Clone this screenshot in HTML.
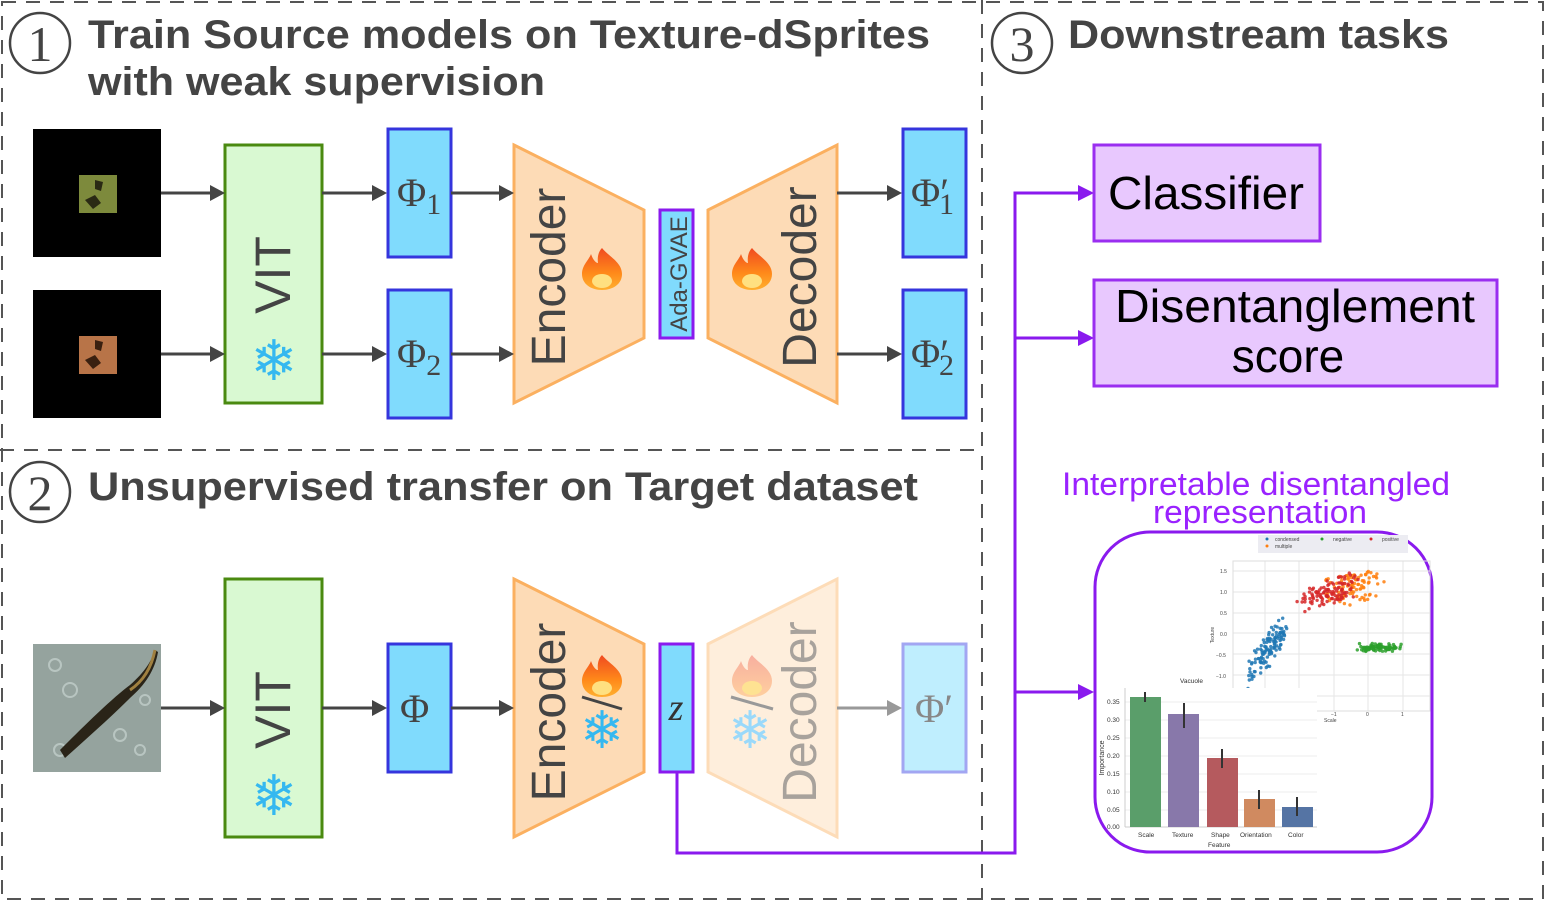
<!DOCTYPE html>
<html><head><meta charset="utf-8"><style>
html,body{margin:0;padding:0;background:#fff;width:1546px;height:902px;overflow:hidden}
svg text{font-family:"Liberation Sans",sans-serif}
</style></head><body>
<svg id="s" width="1546" height="902" viewBox="0 0 1546 902" xmlns="http://www.w3.org/2000/svg">
<defs>
<linearGradient id="fire" x1="0" y1="0" x2="0" y2="1"><stop offset="0" stop-color="#f04a20"/><stop offset="0.6" stop-color="#ff8a1a"/><stop offset="1" stop-color="#ffb030"/></linearGradient>
<linearGradient id="firef" x1="0" y1="0" x2="0" y2="1"><stop offset="0" stop-color="#f7a090"/><stop offset="1" stop-color="#ffc890"/></linearGradient>
<g id="flame"><path d="M0,-20 C6,-12 20,-6 20,6 C20,16 11,22 0,22 C-11,22 -20,16 -20,6 C-20,-3 -13,-8 -11,-14 C-9,-8 -6,-5 -4,-5 C-5,-12 -3,-17 0,-20 Z"/><ellipse cx="0" cy="13" rx="10" ry="7" fill="#ffe080"/></g>
</defs>
<g stroke="#555" stroke-width="2" stroke-dasharray="14,10" fill="none">
<rect x="2" y="2" width="1541" height="897"/>
<line x1="982" y1="0" x2="982" y2="900"/>
<line x1="0" y1="450" x2="982" y2="450"/>
</g>
<g fill="none" stroke="#444" stroke-width="2.5"><circle cx="40" cy="43" r="30"/><circle cx="40" cy="492" r="30"/><circle cx="1022" cy="43" r="30"/></g>
<g font-size="50" fill="#444" text-anchor="middle">
<text x="40" y="61" style="font-family:'Liberation Serif',serif">1</text><text x="40" y="510" style="font-family:'Liberation Serif',serif">2</text><text x="1022" y="61" style="font-family:'Liberation Serif',serif">3</text></g>
<g font-weight="bold" font-size="40" fill="#444">
<text x="88" y="48" textLength="842" lengthAdjust="spacingAndGlyphs">Train Source models on Texture-dSprites</text>
<text x="88" y="95" textLength="457" lengthAdjust="spacingAndGlyphs">with weak supervision</text>
<text x="88" y="500" textLength="830" lengthAdjust="spacingAndGlyphs">Unsupervised transfer on Target dataset</text>
<text x="1068" y="48" textLength="381" lengthAdjust="spacingAndGlyphs">Downstream tasks</text>
</g>
<rect x="33" y="129" width="128" height="128" fill="#000"/>
<rect x="79" y="175" width="38" height="38" fill="#7d8a3c"/><path d="M85,200 l10,-5 l6,8 l-8,6z M95,180 l8,2 l-2,9 l-6,-2z" fill="#2a2a14"/>
<rect x="33" y="290" width="128" height="128" fill="#000"/>
<rect x="79" y="336" width="38" height="38" fill="#b87448"/><path d="M85,360 l10,-5 l6,8 l-8,6z M95,340 l8,2 l-2,9 l-6,-2z" fill="#3a2010"/>
<rect x="33" y="644" width="128" height="128" fill="#95a39e"/>
<g fill="none" stroke="#c8d4d0" stroke-width="2" opacity="0.7"><circle cx="55" cy="665" r="6"/><circle cx="70" cy="690" r="7"/><circle cx="120" cy="735" r="6"/><circle cx="140" cy="750" r="5"/><circle cx="60" cy="750" r="6"/><circle cx="145" cy="700" r="5"/></g>
<path d="M60,750 C80,730 110,700 130,685 C145,672 152,660 155,650 L158,652 C155,670 145,685 130,698 C110,718 85,740 65,758 Z" fill="#2a2418"/>
<path d="M130,690 C145,680 152,665 155,650" stroke="#a08040" stroke-width="3" fill="none"/>
<g fill="#d9f9d2" stroke="#4a8a10" stroke-width="3"><rect x="225" y="145" width="97" height="258"/><rect x="225" y="579" width="97" height="258"/></g>
<g font-size="50" fill="#444" text-anchor="middle"><text transform="translate(290,275) rotate(-90)">VIT</text><text transform="translate(290,710) rotate(-90)">VIT</text></g>
<g font-size="56" fill="#35b8f0" text-anchor="middle"><text x="274" y="380" style="font-family:'DejaVu Sans',sans-serif">❄</text><text x="274" y="815" style="font-family:'DejaVu Sans',sans-serif">❄</text></g>
<g fill="#80dbfd" stroke="#3535dd" stroke-width="3">
<rect x="388" y="129" width="63" height="128"/><rect x="388" y="290" width="63" height="128"/>
<rect x="903" y="129" width="63" height="128"/><rect x="903" y="290" width="63" height="128"/>
<rect x="388" y="644" width="63" height="128"/></g>
<rect x="903" y="644" width="63" height="128" fill="#bfeefe" stroke="#a2a6f2" stroke-width="3"/>
<g fill="#444">
<text x="397" y="206" font-size="40" style="font-family:'Liberation Serif',serif">Φ<tspan font-size="30" dy="8">1</tspan></text>
<text x="397" y="367" font-size="40" style="font-family:'Liberation Serif',serif">Φ<tspan font-size="30" dy="8">2</tspan></text>
<text x="911" y="206" font-size="40" style="font-family:'Liberation Serif',serif">Φ′<tspan font-size="30" dy="8" dx="-10">1</tspan></text>
<text x="911" y="367" font-size="40" style="font-family:'Liberation Serif',serif">Φ′<tspan font-size="30" dy="8" dx="-10">2</tspan></text>
<text x="400" y="722" font-size="40" style="font-family:'Liberation Serif',serif">Φ</text>
<text x="915" y="722" font-size="40" fill="#888" style="font-family:'Liberation Serif',serif">Φ′</text>
</g>
<g fill="#fddbb6" stroke="#fbb060" stroke-width="3">
<path d="M514,145 L644,210 L644,338 L514,403 Z"/><path d="M708,210 L837,145 L837,403 L708,338 Z"/>
<path d="M514,579 L644,644 L644,772 L514,837 Z"/></g>
<path d="M708,644 L837,579 L837,837 L708,772 Z" fill="#feeedc" stroke="#fddcb8" stroke-width="3"/>
<g font-size="48" fill="#444" text-anchor="middle">
<text transform="translate(565,277) rotate(-90)">Encoder</text>
<text transform="translate(816,277) rotate(-90)">Decoder</text>
<text transform="translate(565,712) rotate(-90)">Encoder</text>
<text transform="translate(816,712) rotate(-90)" fill="#a8a29c">Decoder</text></g>
<use href="#flame" x="602" y="268" fill="url(#fire)"/>
<use href="#flame" x="752" y="268" fill="url(#fire)"/>
<use href="#flame" x="602" y="675" fill="url(#fire)"/>
<use href="#flame" x="752" y="675" fill="url(#firef)" opacity="0.8"/>
<line x1="582" y1="697" x2="622" y2="709" stroke="#444" stroke-width="3"/>
<line x1="731" y1="697" x2="773" y2="709" stroke="#999" stroke-width="3"/>
<g font-size="52" text-anchor="middle" style="font-family:'DejaVu Sans',sans-serif"><text x="602" y="748" fill="#35b8f0">❄</text><text x="750" y="748" fill="#9ad9fa">❄</text></g>
<g fill="#80dbfd" stroke="#8a1aee" stroke-width="3"><rect x="660" y="210" width="33" height="128"/><rect x="660" y="644" width="33" height="128"/></g>
<text transform="translate(687,274) rotate(-90)" font-size="24" fill="#444" text-anchor="middle">Ada-GVAE</text>
<text x="676" y="720" font-size="38" fill="#333" text-anchor="middle" font-style="italic" style="font-family:'Liberation Serif',serif">z</text>
<g stroke="#444" stroke-width="3">
<line x1="161" y1="193" x2="212" y2="193"/><line x1="161" y1="354" x2="212" y2="354"/>
<line x1="322" y1="193" x2="374" y2="193"/><line x1="322" y1="354" x2="374" y2="354"/>
<line x1="451" y1="193" x2="501" y2="193"/><line x1="451" y1="354" x2="501" y2="354"/>
<line x1="837" y1="193" x2="889" y2="193"/><line x1="837" y1="354" x2="889" y2="354"/>
<line x1="161" y1="708" x2="212" y2="708"/><line x1="322" y1="708" x2="374" y2="708"/><line x1="451" y1="708" x2="501" y2="708"/>
</g>
<line x1="837" y1="708" x2="889" y2="708" stroke="#999" stroke-width="3"/>
<g fill="#444">
<path d="M225,193 l-15,-8 v16z"/><path d="M225,354 l-15,-8 v16z"/>
<path d="M387,193 l-15,-8 v16z"/><path d="M387,354 l-15,-8 v16z"/>
<path d="M514,193 l-15,-8 v16z"/><path d="M514,354 l-15,-8 v16z"/>
<path d="M902,193 l-15,-8 v16z"/><path d="M902,354 l-15,-8 v16z"/>
<path d="M225,708 l-15,-8 v16z"/><path d="M387,708 l-15,-8 v16z"/><path d="M514,708 l-15,-8 v16z"/></g>
<path d="M902,708 l-15,-8 v16z" fill="#999"/>
<g stroke="#8a1aee" stroke-width="3" fill="none">
<polyline points="677,772 677,853 1015,853 1015,193 1080,193"/>
<line x1="1015" y1="338" x2="1080" y2="338"/><line x1="1015" y1="692" x2="1080" y2="692"/></g>
<g fill="#8a1aee"><path d="M1094,193 l-16,-8 v16z"/><path d="M1094,338 l-16,-8 v16z"/><path d="M1094,692 l-16,-8 v16z"/></g>
<g fill="#e8c8fe" stroke="#9a2ef0" stroke-width="3"><rect x="1094" y="145" width="226" height="96"/><rect x="1094" y="280" width="403" height="106"/></g>
<g font-size="46" fill="#000" text-anchor="middle"><text x="1206" y="209" textLength="196" lengthAdjust="spacingAndGlyphs">Classifier</text><text x="1295" y="322" textLength="360" lengthAdjust="spacingAndGlyphs">Disentanglement</text><text x="1288" y="372">score</text></g>
<g font-size="32" fill="#9a22ff" text-anchor="middle"><text x="1256" y="495" textLength="388" lengthAdjust="spacingAndGlyphs">Interpretable disentangled</text><text x="1260" y="523" textLength="214" lengthAdjust="spacingAndGlyphs">representation</text></g>
<rect x="1095" y="532" width="337" height="320" rx="55" fill="#fff" stroke="#8a1aee" stroke-width="3"/>
<g stroke="#e6e6e6" stroke-width="1"><line x1="1233" y1="571" x2="1430" y2="571"/><line x1="1233" y1="592" x2="1430" y2="592"/><line x1="1233" y1="613" x2="1430" y2="613"/><line x1="1233" y1="633" x2="1430" y2="633"/><line x1="1233" y1="654" x2="1430" y2="654"/><line x1="1233" y1="675" x2="1430" y2="675"/><line x1="1233" y1="696" x2="1430" y2="696"/>
<line x1="1265" y1="561" x2="1265" y2="711"/><line x1="1299" y1="561" x2="1299" y2="711"/><line x1="1334" y1="561" x2="1334" y2="711"/><line x1="1368" y1="561" x2="1368" y2="711"/><line x1="1403" y1="561" x2="1403" y2="711"/></g>
<g id="scatter"></g>
<rect x="1258" y="535" width="150" height="18" fill="#ececf2"/>
<g font-size="5" fill="#444"><text x="1275" y="541">condensed</text><text x="1275" y="548">multiple</text><text x="1333" y="541">negative</text><text x="1382" y="541">positive</text></g>
<g><circle cx="1267" cy="539" r="1.5" fill="#1f77b4"/><circle cx="1267" cy="546" r="1.5" fill="#ff7f0e"/><circle cx="1322" cy="539" r="1.5" fill="#2ca02c"/><circle cx="1371" cy="539" r="1.5" fill="#d62728"/></g>
<rect x="1233" y="561" width="197" height="150" fill="none" stroke="#ddd" stroke-width="1"/>
<g font-size="5" fill="#444"><text x="1220" y="573">1.5</text><text x="1220" y="594">1.0</text><text x="1220" y="615">0.5</text><text x="1220" y="636">0.0</text><text x="1216" y="657">−0.5</text><text x="1216" y="678">−1.0</text><text x="1216" y="699">−1.5</text>
<text x="1262" y="716">−3</text><text x="1297" y="716">−2</text><text x="1331" y="716">−1</text><text x="1366" y="716">0</text><text x="1401" y="716">1</text><text x="1324" y="722">Scale</text></g>
<text transform="translate(1214,635) rotate(-90)" font-size="5" fill="#444" text-anchor="middle">Texture</text>
<rect x="1125" y="688" width="192" height="140" fill="#fff"/>
<g stroke="#eee" stroke-width="1"><line x1="1125" y1="702" x2="1317" y2="702"/><line x1="1125" y1="720" x2="1317" y2="720"/><line x1="1125" y1="738" x2="1317" y2="738"/><line x1="1125" y1="756" x2="1317" y2="756"/><line x1="1125" y1="774" x2="1317" y2="774"/><line x1="1125" y1="792" x2="1317" y2="792"/><line x1="1125" y1="810" x2="1317" y2="810"/></g>
<line x1="1125" y1="827" x2="1317" y2="827" stroke="#ccc"/><line x1="1125" y1="688" x2="1125" y2="827" stroke="#ccc"/>
<rect x="1130" y="697" width="31" height="130" fill="#5a9e6a"/>
<rect x="1168" y="714" width="31" height="113" fill="#8878aa"/>
<rect x="1207" y="758" width="31" height="69" fill="#b55a5e"/>
<rect x="1244" y="799" width="31" height="28" fill="#d08a60"/>
<rect x="1282" y="807" width="31" height="20" fill="#5574a4"/>
<g stroke="#333" stroke-width="2"><line x1="1145" y1="692" x2="1145" y2="702"/><line x1="1184" y1="703" x2="1184" y2="728"/><line x1="1222" y1="749" x2="1222" y2="768"/><line x1="1259" y1="790" x2="1259" y2="809"/><line x1="1297" y1="797" x2="1297" y2="816"/></g>
<g font-size="6.5" fill="#333" style="font-family:'Liberation Serif',serif"><text x="1107" y="704">0.35</text><text x="1107" y="722">0.30</text><text x="1107" y="740">0.25</text><text x="1107" y="758">0.20</text><text x="1107" y="776">0.15</text><text x="1107" y="794">0.10</text><text x="1107" y="812">0.05</text><text x="1107" y="829">0.00</text>
<text x="1138" y="837">Scale</text><text x="1172" y="837">Texture</text><text x="1211" y="837">Shape</text><text x="1240" y="837">Orientation</text><text x="1288" y="837">Color</text><text x="1208" y="847">Feature</text><text x="1180" y="683">Vacuole</text></g>
<text transform="translate(1104,758) rotate(-90)" font-size="7" fill="#333" text-anchor="middle">Importance</text>
</svg>
<script>
(function(){
var s=7;function r(){s=(s*16807)%2147483647;return s/2147483647;}
function g(){return (r()+r()-1);}
var X=function(v){return 1368+v*34.5},Y=function(v){return 633-v*41.7};
var out='';
function add(n,cx,cy,sx,sy,c,f){for(var i=0;i<n;i++){var x=cx+g()*sx,y=cy+g()*sy;if(f)y=f(x)+g()*sy;out+='<circle cx="'+X(x).toFixed(1)+'" cy="'+Y(y).toFixed(1)+'" r="1.7" fill="'+c+'" opacity="0.85"/>';}}
add(120,-2.9,-0.4,0.7,0.45,'#1f77b4',function(x){return -0.4+(x+2.9)*0.9;});
add(90,-0.4,1.1,1.0,0.45,'#ff7f0e');
add(90,0.3,-0.35,0.8,0.1,'#2ca02c');
add(110,-1.2,0.9,1.0,0.35,'#d62728',function(x){return 0.95+(x+1.2)*0.25;});
document.getElementById('scatter').innerHTML=out;
})();
</script>
</body></html>
